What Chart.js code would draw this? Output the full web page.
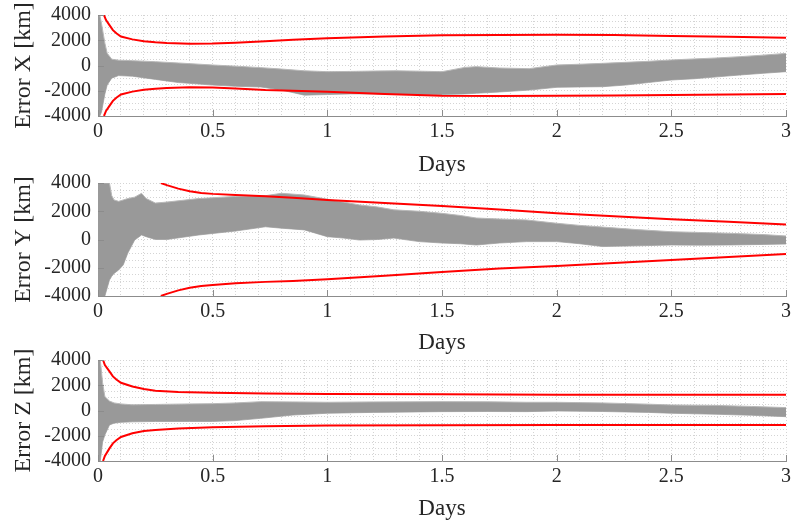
<!DOCTYPE html>
<html lang="en">
<head>
  <meta charset="UTF-8">
  <title>Position error - Monte Carlo runs</title>
  <script src="https://cdn.jsdelivr.net/npm/chart.js"></script>
  <style>
    body {
      margin: 0;
      background: #fff;
    }
    .panel {
      position: absolute;
      left: 0;
    }
  </style>
</head>
<body>
  <canvas id="errX" class="panel" width="791" height="180" style="top:0px"></canvas>
  <canvas id="errY" class="panel" width="791" height="187" style="top:170px"></canvas>
  <canvas id="errZ" class="panel" width="791" height="178" style="top:345px"></canvas>

  <script>
    // tick labels
    const dayTicks = [0, 0.5, 1, 1.5, 2, 2.5, 3];
    const errTicks = [-4000, -2000, 0, 2000, 4000];

    // X: spread of the runs (upper / lower edge of the bundle)
    const xBandDays = [0, 0.008, 0.015, 0.03, 0.04, 0.06, 0.09, 0.15, 0.25, 0.35, 0.5, 0.6, 0.71, 0.8, 0.9, 1.0, 1.1, 1.2, 1.3, 1.4, 1.5, 1.6, 1.65, 1.75, 1.88, 2.0, 2.1, 2.2, 2.3, 2.4, 2.5, 2.6, 2.7, 2.8, 2.9, 3.0];
    const xBandHi = [4000, 4000, 3350, 1770, 970, 500, 420, 380, 300, 200, 40, -50, -170, -280, -420, -490, -470, -440, -420, -450, -490, -150, -90, -200, -250, 40, 100, 170, 250, 330, 440, 520, 600, 700, 820, 960];
    const xBandLo = [-4000, -4000, -3700, -2260, -1550, -1000, -800, -850, -1100, -1350, -1550, -1650, -1700, -1950, -2350, -2300, -2250, -2250, -2280, -2300, -2300, -2250, -2200, -2100, -1950, -1730, -1700, -1680, -1550, -1350, -1150, -1050, -900, -750, -620, -490];
    // X: 3-sigma bounds
    const xSigDays = [0.026, 0.035, 0.05, 0.065, 0.08, 0.1, 0.15, 0.2, 0.25, 0.3, 0.4, 0.5, 0.6, 0.73, 0.85, 1.0, 1.25, 1.5, 1.75, 2.0, 2.25, 2.5, 2.75, 3.0];
    const xSigHi = [4000, 3600, 3200, 2800, 2550, 2300, 2070, 1930, 1840, 1780, 1730, 1740, 1800, 1920, 2030, 2150, 2290, 2390, 2420, 2440, 2420, 2340, 2280, 2200];
    const xSigLo = [-4000, -3600, -3200, -2800, -2550, -2300, -2070, -1930, -1840, -1780, -1730, -1750, -1820, -1950, -2000, -2070, -2250, -2390, -2420, -2400, -2380, -2340, -2300, -2260];

    // Y
    const yBandDays = [0, 0.03, 0.05, 0.06, 0.07, 0.09, 0.11, 0.13, 0.16, 0.19, 0.21, 0.25, 0.3, 0.44, 0.6, 0.73, 0.8, 0.9, 1.0, 1.07, 1.14, 1.22, 1.29, 1.4, 1.5, 1.58, 1.65, 1.75, 1.87, 2.0, 2.1, 2.2, 2.35, 2.5, 2.62, 2.75, 2.9, 3.0];
    const yBandHi = [4000, 4000, 4000, 3100, 2800, 2700, 2800, 2900, 3000, 3270, 2900, 2580, 2650, 2900, 3050, 3100, 3270, 3150, 2850, 2650, 2450, 2300, 2100, 2000, 1850, 1700, 1520, 1450, 1380, 1150, 1000, 880, 700, 550, 500, 440, 350, 250];
    const yBandLo = [-4000, -4000, -2870, -2600, -2400, -2160, -1800, -960, -40, 320, 200, 0, 0, 320, 600, 900, 800, 680, 200, 100, -40, 0, 100, -150, -250, -300, -390, -250, -150, -150, -300, -500, -450, -390, -400, -390, -350, -320];
    const ySigDays = [0.274, 0.3, 0.35, 0.4, 0.45, 0.5, 0.6, 0.73, 0.85, 1.0, 1.25, 1.5, 1.75, 2.0, 2.25, 2.5, 2.75, 3.0];
    const ySigHi = [4000, 3850, 3600, 3420, 3300, 3230, 3150, 3060, 2950, 2800, 2580, 2370, 2130, 1850, 1640, 1430, 1250, 1070];
    const ySigLo = [-4000, -3850, -3600, -3420, -3300, -3220, -3100, -3000, -2930, -2820, -2560, -2300, -2060, -1880, -1660, -1450, -1240, -1030];

    // Z
    const zBandDays = [0, 0.01, 0.02, 0.03, 0.05, 0.07, 0.1, 0.15, 0.25, 0.4, 0.5, 0.6, 0.71, 0.85, 1.0, 1.2, 1.5, 1.7, 1.87, 2.0, 2.2, 2.4, 2.5, 2.7, 2.85, 3.0];
    const zBandHi = [4000, 4000, 2200, 1100, 750, 600, 520, 450, 480, 520, 540, 600, 700, 680, 650, 680, 700, 690, 650, 650, 600, 500, 440, 400, 320, 230];
    const zBandLo = [-4000, -4000, -2500, -1940, -1150, -1000, -940, -900, -870, -870, -870, -800, -620, -360, -220, -150, -90, -80, -90, -40, -80, -150, -220, -300, -380, -490];
    const zSigDays = [0.022, 0.03, 0.05, 0.065, 0.08, 0.1, 0.15, 0.2, 0.25, 0.35, 0.5, 0.73, 1.0, 1.5, 2.0, 2.5, 3.0];
    const zSigHi = [4000, 3600, 3100, 2700, 2450, 2200, 1900, 1700, 1570, 1470, 1410, 1350, 1300, 1280, 1240, 1240, 1250];
    const zSigLo = [-4000, -3600, -3000, -2600, -2350, -2100, -1800, -1620, -1540, -1420, -1320, -1240, -1180, -1160, -1150, -1150, -1150];

    const fontFamily = "'Liberation Serif', 'DejaVu Serif', serif";
    const textColor = '#262626';
    const axisColor = '#8c8c8c';
    const gridColor = '#d4d4d4';

    const pairs = (xs, ys) => xs.map((d, i) => ({ x: d, y: ys[i] }));
    const isMajor = (v, list) => list.some(t => Math.abs(t - v) < 1e-6);

    // MATLAB-style tick marks pointing into the axes
    const innerTicks = {
      id: 'innerTicks',
      afterDraw(chart) {
        const { ctx, chartArea: a, scales: { x, y } } = chart;
        ctx.save();
        ctx.strokeStyle = axisColor;
        ctx.lineWidth = 1;
        ctx.beginPath();
        dayTicks.forEach(d => {
          const px = Math.round(x.getPixelForValue(d)) + 0.5;
          ctx.moveTo(px, a.bottom);
          ctx.lineTo(px, a.bottom - 6);
        });
        errTicks.forEach(v => {
          const py = Math.round(y.getPixelForValue(v)) + 0.5;
          ctx.moveTo(a.left, py);
          ctx.lineTo(a.left + 6, py);
        });
        ctx.stroke();
        ctx.restore();
      }
    };

    // outward tick marks are kept invisible; their length only spaces the labels
    const gridOpts = len => ({ color: gridColor, drawTicks: true, tickLength: len, tickColor: 'rgba(0,0,0,0)' });

    function drawPanel(id, axisName, bandDays, bandHi, bandLo, sigDays, sigHi, sigLo, padTop, axisHeight, daysPad) {
      const ctx = document.getElementById(id).getContext('2d');
      new Chart(ctx, {
        type: 'line',
        data: {
          datasets: [
            { data: pairs(sigDays, sigHi), borderColor: '#ff0000', borderWidth: 2, fill: false, order: 0 },
            { data: pairs(sigDays, sigLo), borderColor: '#ff0000', borderWidth: 2, fill: false, order: 0 },
            { data: pairs(bandDays, bandHi), borderColor: '#b8b8b8', borderWidth: 1, backgroundColor: '#999999', fill: '+1', order: 1 },
            { data: pairs(bandDays, bandLo), borderColor: '#b8b8b8', borderWidth: 1, fill: false, order: 1 }
          ]
        },
        options: {
          responsive: false,
          animation: false,
          events: [],
          elements: { point: { radius: 0 }, line: { tension: 0 } },
          layout: { padding: { top: padTop, right: 1, left: 0, bottom: 0 } },
          plugins: { legend: { display: false }, tooltip: { enabled: false } },
          scales: {
            x: {
              type: 'linear',
              min: 0,
              max: 3,
              afterFit: s => { s.height = axisHeight; },
              ticks: {
                stepSize: 0.1,
                autoSkip: false,
                maxRotation: 0,
                padding: 0,
                color: textColor,
                font: { family: fontFamily, size: 20 },
                callback: v => isMajor(v, dayTicks) ? String(Math.round(v * 2) / 2) : ''
              },
              grid: gridOpts(4),
              border: { display: true, color: axisColor, dash: [1, 2] },
              title: {
                display: true,
                text: 'Days',
                color: textColor,
                font: { family: fontFamily, size: 23 },
                padding: { top: 0, bottom: daysPad }
              }
            },
            y: {
              min: -4000,
              max: 4000,
              afterFit: s => { s.width = 98; },
              ticks: {
                stepSize: 500,
                autoSkip: false,
                padding: 0,
                color: textColor,
                font: { family: fontFamily, size: 20 },
                callback: v => isMajor(v, errTicks) ? String(v) : ''
              },
              grid: gridOpts(7),
              border: { display: true, color: axisColor, dash: [1, 2] },
              title: {
                display: true,
                text: 'Error ' + axisName + ' [km]',
                color: textColor,
                font: { family: fontFamily, size: 24 },
                padding: { top: 9, bottom: 0 }
              }
            }
          }
        },
        plugins: [innerTicks]
      });
    }

    drawPanel('errX', 'X', xBandDays, xBandHi, xBandLo, xSigDays, xSigHi, xSigLo, 15, 64, 1);
    drawPanel('errY', 'Y', yBandDays, yBandHi, yBandLo, ySigDays, ySigHi, ySigLo, 13, 61, 0);
    drawPanel('errZ', 'Z', zBandDays, zBandHi, zBandLo, zSigDays, zSigHi, zSigLo, 15, 62, 0);
  </script>
</body>
</html>
